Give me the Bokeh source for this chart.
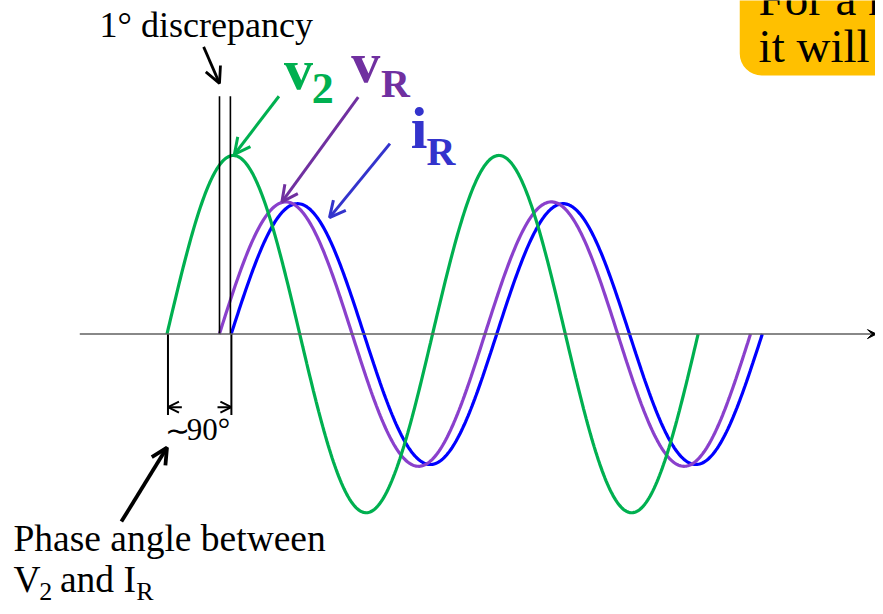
import numpy as np
from bokeh.plotting import figure
from bokeh.models import Range1d, Arrow, OpenHead, VeeHead, BoxAnnotation
from bokeh.core.properties import value
from bokeh.embed import file_html
from bokeh.resources import INLINE

# ---- data (phase diagram) ----
series_names = ["v2", "vR", "iR"]
start_deg = [0.0, 71.0, 87.0]        # where each wave starts (degrees)
amplitude = [1.0, 0.74, 0.73]       # relative amplitudes
cycles = [2, 2, 2]
curve_colors = ["#00B050", "#8A40CC", "#0000FF"]
label_colors = ["#00B050", "#7030A0", "#3333CC"]

# scale used for annotation placement (reference pixels -> data units)
PX0, PX_PER_DEG = 168.0, 268.0 / 360.0
PY0, PY_PER_UNIT = 338.0, 181.0
def X(px):
    return (px - PX0) / PX_PER_DEG
def Y(py):
    return (PY0 - py) / PY_PER_UNIT

p = figure(width=875, height=606, output_backend="svg", toolbar_location=None,
           x_range=Range1d(X(0), X(883)), y_range=Range1d(Y(614), Y(0)),
           min_border=0)
p.axis.visible = False
p.grid.visible = False
p.outline_line_color = None
p.background_fill_color = "white"

serif = value("Liberation Serif")

def txt(px, py, s, size, color="black", bold=False):
    # py is the desired baseline in reference pixels; compensate renderer offset
    adj = py - 0.35 * size
    p.text(x=[X(px)], y=[Y(adj)], text=[s], text_font=serif,
           text_font_size=f"{size}px", text_color=color,
           text_baseline="alphabetic",
           text_font_style="bold" if bold else "normal")

# orange note box (clipped at top-right)
p.add_layout(BoxAnnotation(left=X(746), right=X(960), bottom=Y(76), top=Y(-40),
                           fill_color="#FFC000", fill_alpha=1.0, line_color=None,
                           border_radius=22, level="underlay"))
txt(765, 15, "For a r", 47)
txt(765, 63, "it will", 47)

# time axis with arrow
p.add_layout(Arrow(x_start=X(80), y_start=0, x_end=X(884), y_end=0,
                   line_color="#606060", line_width=1.5,
                   end=VeeHead(size=9, fill_color="black", line_color="black")))

# waves (draw blue, purple, then green on top)
for i in [2, 1, 0]:
    xs = np.linspace(start_deg[i], start_deg[i] + 360 * cycles[i], 400)
    ys = amplitude[i] * np.sin(np.radians(xs - start_deg[i]))
    p.line(xs, ys, line_color=curve_colors[i], line_width=3.2)

# reference vertical lines
p.segment(x0=[X(221), X(232)], y0=[Y(97), Y(97)], x1=[X(221), X(232)], y1=[0, 0],
          line_color="black", line_width=1.6)
p.segment(x0=[X(169), X(233)], y0=[0, 0], x1=[X(169), X(233)], y1=[Y(420), Y(420)],
          line_color="black", line_width=2)

# dimension arrows
for xs_, xe_ in [(183, 169), (219, 233)]:
    p.add_layout(Arrow(x_start=X(xs_), y_start=Y(412), x_end=X(xe_), y_end=Y(412),
                       line_color="black", line_width=2,
                       end=OpenHead(size=11, line_width=2, line_color="black")))

# pointer arrows
arrows = [((205, 47), (221, 84), "black", 2.8),
          ((281, 97), (236, 156), label_colors[0], 3),
          ((361, 98), (284, 204), label_colors[1], 3),
          ((393, 145), (332, 220), label_colors[2], 3),
          ((122, 528), (168, 453), "black", 3.8)]
for (x0, y0), (x1, y1), c, lw in arrows:
    p.add_layout(Arrow(x_start=X(x0), y_start=Y(y0), x_end=X(x1), y_end=Y(y1),
                       line_color=c, line_width=lw,
                       end=OpenHead(size=16, line_width=lw, line_color=c)))

txt(100, 37, "1° discrepancy", 36)
# v2
txt(286, 90, "v", 58, label_colors[0], True)
txt(314, 105, "2", 44, label_colors[0], True)
# vR
txt(354, 83, "v", 58, label_colors[1], True)
txt(384, 98, "R", 40, label_colors[1], True)
# iR
txt(414, 150, "i", 60, label_colors[2], True)
txt(430, 167, "R", 40, label_colors[2], True)

txt(166, 446, "∼", 30)
txt(188, 446, "90°", 31)
txt(13, 558, "Phase angle between", 37.5)
txt(13, 600, "V", 37.5)
txt(39, 608, "2", 26)
txt(60, 600, "and I", 37.5)
txt(137, 608, "R", 26)

open("out.html", "w").write(file_html(p, INLINE))
